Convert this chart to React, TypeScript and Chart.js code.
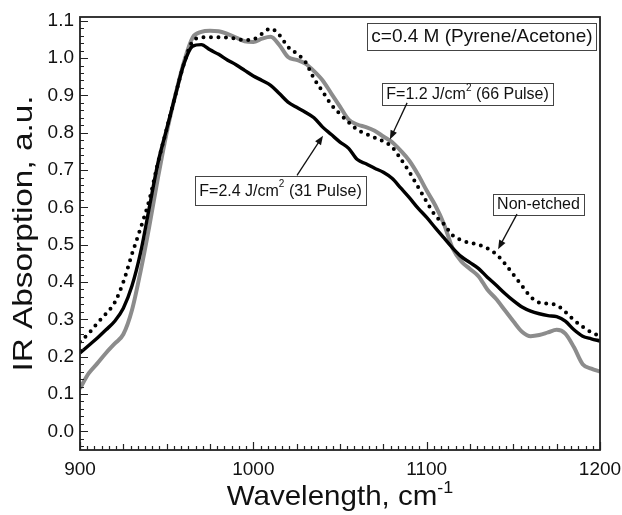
import React, { useEffect, useRef } from "react";
import { Chart, registerables } from "chart.js";

Chart.register(...registerables);

const FONT = "'Liberation Sans', Arial, Helvetica, sans-serif";

// Wavelength (cm^-1)
const wavelengths = [
  900, 905, 910, 915, 920, 925, 930, 935, 940, 945, 950, 955, 960, 965, 970, 975,
  980, 985, 990, 995, 1000, 1005, 1010, 1015, 1020, 1025, 1030, 1035, 1040, 1045,
  1050, 1055, 1060, 1065, 1070, 1075, 1080, 1085, 1090, 1095, 1100, 1105, 1110,
  1115, 1120, 1125, 1130, 1135, 1140, 1145, 1150, 1155, 1160, 1165, 1170, 1175,
  1180, 1185, 1190, 1195, 1200,
];

// F=2.4 J/cm2 (31 Pulse) - black solid
const fluence24 = [
  0.21, 0.23, 0.25, 0.272, 0.295, 0.33, 0.39, 0.48, 0.6, 0.72, 0.81, 0.9, 0.985,
  1.032, 1.036, 1.022, 1.01, 0.995, 0.982, 0.967, 0.952, 0.94, 0.927, 0.905, 0.882,
  0.868, 0.855, 0.84, 0.815, 0.795, 0.775, 0.758, 0.728, 0.717, 0.705, 0.694, 0.678,
  0.652, 0.626, 0.598, 0.573, 0.545, 0.518, 0.491, 0.468, 0.452, 0.436, 0.413, 0.392,
  0.37, 0.35, 0.333, 0.322, 0.315, 0.31, 0.307, 0.295, 0.272, 0.255, 0.248, 0.242,
];

// F=1.2 J/cm2 (66 Pulse) - gray solid
const fluence12 = [
  0.115, 0.155, 0.182, 0.21, 0.235, 0.26, 0.325, 0.43, 0.55, 0.68, 0.8, 0.9, 0.99,
  1.055, 1.07, 1.073, 1.072, 1.065, 1.055, 1.045, 1.043, 1.052, 1.057, 1.035, 1.003,
  0.995, 0.985, 0.965, 0.94, 0.905, 0.87, 0.835, 0.822, 0.815, 0.805, 0.79, 0.775,
  0.752, 0.725, 0.688, 0.645, 0.605, 0.555, 0.49, 0.455, 0.435, 0.415, 0.38, 0.355,
  0.325, 0.295, 0.267, 0.255, 0.258, 0.265, 0.272, 0.262, 0.225, 0.18, 0.168, 0.16,
];

// Non-etched - black dotted
const nonEtched = [
  0.24, 0.262, 0.29, 0.315, 0.345, 0.4, 0.475, 0.545, 0.62, 0.72, 0.81, 0.9, 0.985,
  1.045, 1.055, 1.056, 1.056, 1.055, 1.052, 1.048, 1.05, 1.065, 1.079, 1.062, 1.03,
  1.012, 0.99, 0.945, 0.91, 0.875, 0.85, 0.828, 0.808, 0.797, 0.787, 0.777, 0.762,
  0.73, 0.695, 0.655, 0.615, 0.578, 0.555, 0.525, 0.512, 0.505, 0.5, 0.49, 0.475,
  0.45, 0.42, 0.39, 0.36, 0.345, 0.342, 0.338, 0.32, 0.298, 0.28, 0.265, 0.255,
];

const xTickValues = [900, 1000, 1100, 1200];
const yTickValues = [0, 0.1, 0.2, 0.3, 0.4, 0.5, 0.6, 0.7, 0.8, 0.9, 1.0, 1.1];
const xRange = [900, 1200];
const yRange = [-0.05, 1.11];
const xMinorStep = 25 / 6;
const yMinorStep = 0.02;

const xTitle = [{ t: "Wavelength, cm" }, { t: "-1", sup: true }];
const yTitle = "IR Absorption, a.u.";

type Seg = { t: string; sup?: boolean };
type Note = {
  segs: Seg[];
  size: number;
  at: [number, number];
  boxH: number;
  padX: number;
  from?: [number, number];
  to?: [number, number];
};

const notes: Note[] = [
  { segs: [{ t: "c=0.4 M (Pyrene/Acetone)" }], size: 19, at: [1131.9, 1.059], boxH: 27, padX: 4 },
  {
    segs: [{ t: "F=1.2 J/cm" }, { t: "2", sup: true }, { t: " (66 Pulse)" }],
    size: 16, at: [1123.6, 0.904], boxH: 22, padX: 4,
    from: [1088.7, 0.88], to: [1078.8, 0.782],
  },
  {
    segs: [{ t: "F=2.4 J/cm" }, { t: "2", sup: true }, { t: " (31 Pulse)" }],
    size: 16, at: [1015.7, 0.646], boxH: 29, padX: 4,
    from: [1025.2, 0.686], to: [1040.2, 0.792],
  },
  {
    segs: [{ t: "Non-etched" }],
    size: 16, at: [1164.5, 0.609], boxH: 21, padX: 4,
    from: [1152.1, 0.582], to: [1141.2, 0.488],
  },
];

function measureRich(ctx: CanvasRenderingContext2D, segs: Seg[], size: number) {
  let w = 0;
  for (const s of segs) {
    ctx.font = `${s.sup ? Math.round(size * 0.62) : size}px ${FONT}`;
    w += ctx.measureText(s.t).width;
  }
  return w;
}

function drawRich(ctx: CanvasRenderingContext2D, segs: Seg[], x: number, y: number, size: number) {
  const w = measureRich(ctx, segs, size);
  let cx = x - w / 2;
  ctx.textAlign = "left";
  for (const s of segs) {
    const fs = s.sup ? Math.round(size * 0.62) : size;
    ctx.font = `${fs}px ${FONT}`;
    ctx.fillText(s.t, cx, s.sup ? y - size * 0.42 : y);
    cx += ctx.measureText(s.t).width;
  }
  return w;
}

const decorPlugin = {
  id: "decor",
  afterDatasetsDraw(chart: any) {
    const ctx: CanvasRenderingContext2D = chart.ctx;
    const xs = chart.scales.x;
    const ys = chart.scales.y;
    const { left, right, top, bottom } = chart.chartArea;
    ctx.save();
    // frame
    ctx.strokeStyle = "#222";
    ctx.lineWidth = 1.8;
    ctx.strokeRect(left, top, right - left, bottom - top);
    // inner ticks
    ctx.lineWidth = 1.2;
    ctx.beginPath();
    const nx = Math.round((xRange[1] - xRange[0]) / xMinorStep);
    for (let i = 0; i <= nx; i++) {
      const v = xRange[0] + i * xMinorStep;
      const px = Math.round(xs.getPixelForValue(v)) + 0.5;
      const len = i % 24 === 0 ? 8 : i % 6 === 0 ? 6 : 4;
      ctx.moveTo(px, bottom);
      ctx.lineTo(px, bottom - len);
    }
    const i0 = Math.ceil(yRange[0] / yMinorStep - 1e-6);
    const i1 = Math.floor(yRange[1] / yMinorStep + 1e-6);
    for (let i = i0; i <= i1; i++) {
      const v = i * yMinorStep;
      const py = Math.round(ys.getPixelForValue(v)) + 0.5;
      const len = i % 5 === 0 ? 8 : 4;
      ctx.moveTo(left, py);
      ctx.lineTo(left + len, py);
    }
    ctx.stroke();

    // annotations
    ctx.textBaseline = "middle";
    for (const n of notes) {
      const cx = xs.getPixelForValue(n.at[0]);
      const cy = ys.getPixelForValue(n.at[1]);
      const w = measureRich(ctx, n.segs, n.size) + n.padX * 2;
      ctx.fillStyle = "#fff";
      ctx.fillRect(cx - w / 2, cy - n.boxH / 2, w, n.boxH);
      ctx.strokeStyle = "#444";
      ctx.lineWidth = 1;
      ctx.strokeRect(Math.round(cx - w / 2) + 0.5, Math.round(cy - n.boxH / 2) + 0.5, Math.round(w), n.boxH);
      ctx.fillStyle = "#111";
      drawRich(ctx, n.segs, cx, cy + 1, n.size);
      if (n.from && n.to) {
        const x1 = xs.getPixelForValue(n.from[0]);
        const y1 = ys.getPixelForValue(n.from[1]);
        const x2 = xs.getPixelForValue(n.to[0]);
        const y2 = ys.getPixelForValue(n.to[1]);
        const ang = Math.atan2(y2 - y1, x2 - x1);
        const hl = 9;
        const hw = 3.5;
        ctx.strokeStyle = "#111";
        ctx.lineWidth = 1.3;
        ctx.beginPath();
        ctx.moveTo(x1, y1);
        ctx.lineTo(x2 - Math.cos(ang) * hl * 0.8, y2 - Math.sin(ang) * hl * 0.8);
        ctx.stroke();
        ctx.fillStyle = "#111";
        ctx.beginPath();
        ctx.moveTo(x2, y2);
        ctx.lineTo(x2 - Math.cos(ang) * hl - Math.sin(ang) * hw, y2 - Math.sin(ang) * hl + Math.cos(ang) * hw);
        ctx.lineTo(x2 - Math.cos(ang) * hl + Math.sin(ang) * hw, y2 - Math.sin(ang) * hl - Math.cos(ang) * hw);
        ctx.closePath();
        ctx.fill();
      }
    }

    // axis titles
    ctx.fillStyle = "#111";
    ctx.textBaseline = "alphabetic";
    ctx.save();
    ctx.translate((left + right) / 2, 505);
    ctx.scale(1.055, 1);
    drawRich(ctx, xTitle, 0, 0, 28);
    ctx.restore();
    ctx.save();
    ctx.translate(32, (top + bottom) / 2);
    ctx.rotate(-Math.PI / 2);
    ctx.scale(1.19, 1);
    ctx.font = `28px ${FONT}`;
    ctx.textAlign = "center";
    ctx.fillText(yTitle, 0, 0);
    ctx.restore();
    ctx.restore();
  },
};

export default function App() {
  const ref = useRef<HTMLCanvasElement | null>(null);
  useEffect(() => {
    document.body.style.margin = "0";
    const canvas = ref.current!;
    const mk = (arr: number[]) => wavelengths.map((x, i) => ({ x, y: arr[i] }));
    const chart = new Chart(canvas, {
      type: "line",
      data: {
        datasets: [
          {
            label: "Non-etched",
            data: mk(nonEtched),
            borderColor: "#000",
            borderWidth: 4,
            borderDash: [0, 7.5],
            borderCapStyle: "round",
            pointRadius: 0,
            cubicInterpolationMode: "monotone",
            order: 1,
          },
          {
            label: "F=2.4 J/cm2 (31 Pulse)",
            data: mk(fluence24),
            borderColor: "#000",
            borderWidth: 3.4,
            pointRadius: 0,
            cubicInterpolationMode: "monotone",
            order: 2,
          },
          {
            label: "F=1.2 J/cm2 (66 Pulse)",
            data: mk(fluence12),
            borderColor: "#8c8c8c",
            borderWidth: 4,
            pointRadius: 0,
            cubicInterpolationMode: "monotone",
            order: 3,
          },
        ],
      },
      options: {
        animation: false,
        responsive: false,
        maintainAspectRatio: false,
        layout: { padding: { top: 17, right: 22, left: 0, bottom: 0 } },
        plugins: { legend: { display: false }, tooltip: { enabled: false } },
        scales: {
          x: {
            type: "linear",
            min: xRange[0],
            max: xRange[1],
            grid: { display: false, drawTicks: false },
            border: { display: false },
            ticks: {
              color: "#111",
              font: { family: FONT, size: 19 },
              padding: 8,
              maxRotation: 0,
              callback: (v: any) => String(v),
            },
            afterBuildTicks: (s: any) => {
              s.ticks = xTickValues.map((v) => ({ value: v }));
            },
            afterFit: (s: any) => {
              s.height = 65;
              s.paddingLeft = 0;
              s.paddingRight = 0;
            },
          },
          y: {
            type: "linear",
            min: yRange[0],
            max: yRange[1],
            grid: { display: false, drawTicks: false },
            border: { display: false },
            ticks: {
              color: "#111",
              font: { family: FONT, size: 19 },
              padding: 6,
              callback: (v: any) => Number(v).toFixed(1),
            },
            afterBuildTicks: (s: any) => {
              s.ticks = yTickValues.map((v) => ({ value: v }));
            },
            afterFit: (s: any) => {
              s.width = 80;
              s.paddingTop = 0;
              s.paddingBottom = 0;
            },
          },
        },
      },
      plugins: [decorPlugin],
    } as any);
    return () => chart.destroy();
  }, []);
  return (
    <div style={{ width: 622, height: 515, background: "#fff" }}>
      <canvas ref={ref} width={622} height={515} style={{ display: "block" }} />
    </div>
  );
}
